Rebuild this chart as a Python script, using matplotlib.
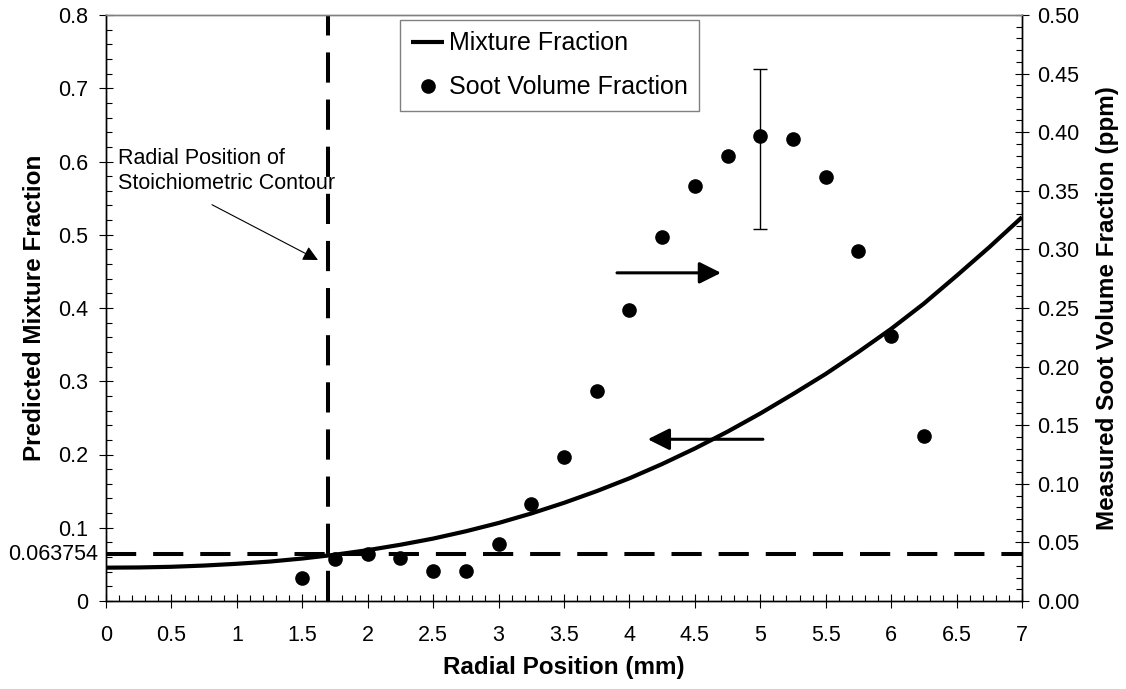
import matplotlib
matplotlib.use("Agg")
import matplotlib.pyplot as plt
from matplotlib.ticker import MultipleLocator, FixedLocator, FixedFormatter, FormatStrFormatter
from matplotlib.transforms import offset_copy

plt.rcParams['font.family'] = ['Liberation Sans', 'DejaVu Sans']

# predicted mixture fraction (left axis)
r_model = [0, 0.25, 0.5, 0.75, 1.0, 1.25, 1.5, 1.75, 2.0, 2.25, 2.5, 2.75, 3.0, 3.25, 3.5,
           3.75, 4.0, 4.25, 4.5, 4.75, 5.0, 5.25, 5.5, 5.75, 6.0, 6.25, 6.5, 6.75, 7.0]
mix_frac = [0.0455, 0.0458, 0.0467, 0.0484, 0.0508, 0.0538, 0.0580, 0.0632, 0.0694, 0.0768,
            0.0852, 0.0952, 0.1065, 0.1195, 0.1340, 0.1500, 0.1675, 0.1870, 0.2082, 0.2312,
            0.2560, 0.2825, 0.3100, 0.3400, 0.3715, 0.4060, 0.4440, 0.4830, 0.5240]

# measured soot volume fraction, ppm (right axis)
r_meas = [1.5, 1.75, 2.0, 2.25, 2.5, 2.75, 3.0, 3.25, 3.5, 3.75, 4.0, 4.25, 4.5,
          4.75, 5.0, 5.25, 5.5, 5.75, 6.0, 6.25]
soot_fv = [0.020, 0.036, 0.040, 0.037, 0.026, 0.026, 0.049, 0.083, 0.123, 0.179, 0.248,
           0.311, 0.354, 0.380, 0.397, 0.394, 0.362, 0.299, 0.226, 0.141]

# error bar on the peak
err_r = [5.0]
err_val = [0.397]
err_low = [0.080]
err_high = [0.057]

stoich_r = 1.7
stoich_z = 0.063754

fig = plt.figure(figsize=(11.26, 6.89), dpi=100)
ax = fig.add_axes([106/1126, 1 - 601/689, 916/1126, 586/689])
ax2 = ax.twinx()

line, = ax.plot(r_model, mix_frac, color='black', lw=3.0, solid_capstyle='butt')
ax.axhline(stoich_z, color='black', lw=2.9, dashes=(7.5, 4.2))
ax.axvline(stoich_r, color='black', lw=2.9, dashes=(7.5, 4.2))

ax2.errorbar(err_r, err_val, yerr=[err_low, err_high], fmt='none', ecolor='black',
             elinewidth=1.0, capsize=5, capthick=1.0)
dots, = ax2.plot(r_meas, soot_fv, 'o', color='black', markersize=9.5, linestyle='none')

# axes limits / ticks
ax.set_xlim(0, 7)
ax.set_ylim(0, 0.8)
ax2.set_ylim(0, 0.5)

xt = [0, 0.5, 1, 1.5, 2, 2.5, 3, 3.5, 4, 4.5, 5, 5.5, 6, 6.5, 7]
ax.xaxis.set_major_locator(FixedLocator(xt))
ax.xaxis.set_major_formatter(FixedFormatter(['%g' % v for v in xt]))
ax.xaxis.set_minor_locator(MultipleLocator(0.1))

yt = [0, 0.1, 0.2, 0.3, 0.4, 0.5, 0.6, 0.7, 0.8]
ax.yaxis.set_major_locator(FixedLocator(yt))
ax.yaxis.set_major_formatter(FixedFormatter(['%g' % v for v in yt]))
ax.yaxis.set_minor_locator(MultipleLocator(0.02))

ax2.yaxis.set_major_locator(MultipleLocator(0.05))
ax2.yaxis.set_major_formatter(FormatStrFormatter('%.2f'))
ax2.yaxis.set_minor_locator(MultipleLocator(0.01))

for a in (ax, ax2):
    a.tick_params(which='major', direction='inout', length=10, width=0.8, labelsize=15.5)
    a.tick_params(which='minor', direction='in', length=4, width=0.8)
    for s in a.spines.values():
        s.set_linewidth(1.0)
        s.set_color('black')
    a.spines['top'].set_color('#808080')
ax.tick_params(axis='x', which='major', pad=12)
ax.tick_params(axis='y', which='major', pad=8)
ax2.tick_params(axis='y', which='major', pad=6)
ax.tick_params(axis='x', which='both', top=False)
ax2.tick_params(axis='x', which='both', top=False, bottom=False)

# the stoichiometric value label on the left axis
lbl_tr = offset_copy(ax.get_yaxis_transform(), fig=fig, x=-6, y=0, units='points')
ax.text(0, stoich_z, '0.063754', transform=lbl_tr, ha='right', va='center', fontsize=15.5)

ax.set_xlabel('Radial Position (mm)', fontsize=17.5, fontweight='bold')
ax.set_ylabel('Predicted Mixture Fraction', fontsize=17.5, fontweight='bold')
ax2.set_ylabel('Measured Soot Volume Fraction (ppm)', fontsize=17.5, fontweight='bold')
ax.xaxis.set_label_coords(0.5, -0.114)
ax.yaxis.set_label_coords(-(106 - 35) / 916, 0.5)
ax2.yaxis.set_label_coords((1107 - 106) / 916, 0.5)
ax.yaxis.label.set_va('center')
ax2.yaxis.label.set_va('center')
ax.xaxis.label.set_va('center')

# annotations
ax.text(0.092, 0.619, 'Radial Position of\nStoichiometric Contour', fontsize=15.5,
        ha='left', va='top', linespacing=1.3)
ax.annotate('', xy=(1.62, 0.4655), xytext=(0.81, 0.541),
            arrowprops=dict(arrowstyle='-|>,head_length=0.6,head_width=0.3',
                            mutation_scale=15, lw=0.8, color='black',
                            shrinkA=0, shrinkB=0))
ax.annotate('', xy=(4.70, 0.448), xytext=(3.905, 0.448),
            arrowprops=dict(arrowstyle='-|>,head_length=0.6,head_width=0.3',
                            mutation_scale=22, lw=2.2, color='black',
                            shrinkA=0, shrinkB=0))
ax.annotate('', xy=(4.14, 0.2208), xytext=(5.02, 0.2208),
            arrowprops=dict(arrowstyle='-|>,head_length=0.6,head_width=0.3',
                            mutation_scale=22, lw=2.2, color='black',
                            shrinkA=0, shrinkB=0))

leg = ax2.legend([line, dots], ['Mixture Fraction', 'Soot Volume Fraction'],
                 loc='upper left', bbox_to_anchor=(400/1126, 1 - 20/689),
                 bbox_transform=fig.transFigure, borderaxespad=0, fontsize=18,
                 fancybox=False, edgecolor='#808080', framealpha=1,
                 handlelength=1.3, handletextpad=0.2, borderpad=0.45, labelspacing=0.8)
leg.get_frame().set_linewidth(1.0)

fig.savefig('out.png', dpi=100)
